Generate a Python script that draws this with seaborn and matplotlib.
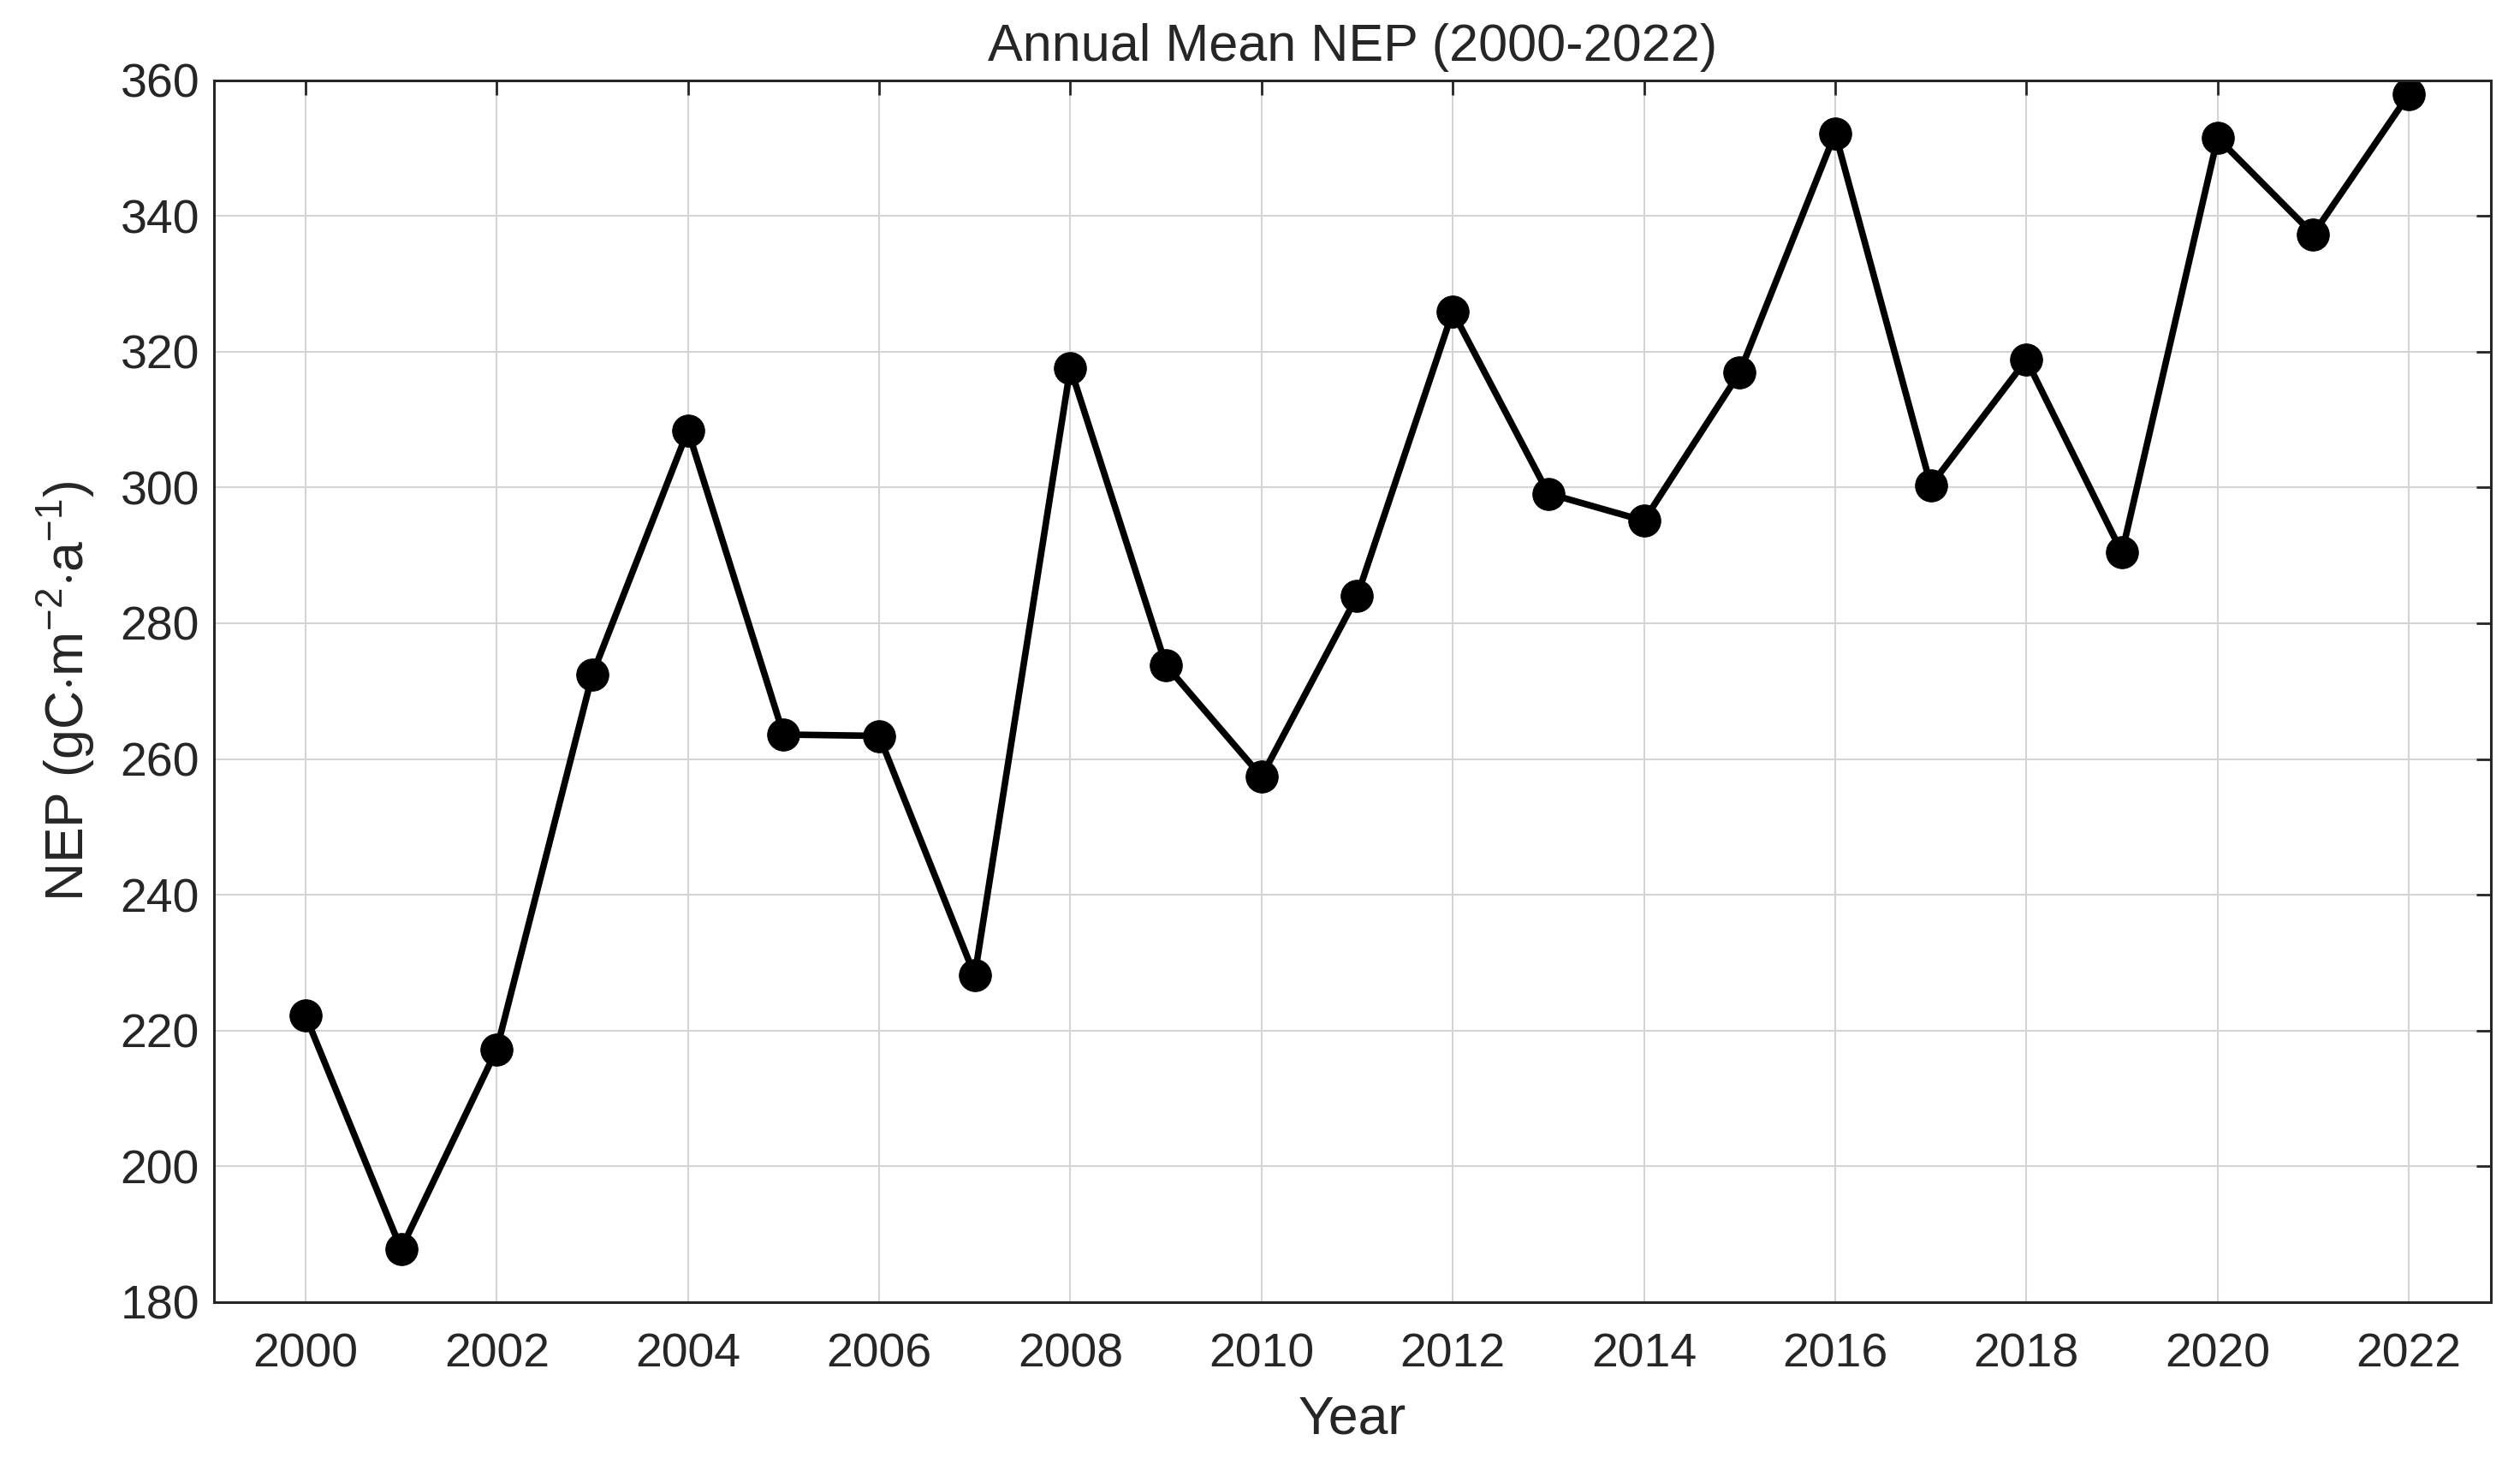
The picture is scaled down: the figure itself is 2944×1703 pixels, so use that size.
import pandas as pd
import matplotlib.pyplot as plt
import seaborn as sns
import numpy as np

# Dados
years = list(range(2000, 2023))
nep = [222.2, 187.8, 217.2, 272.4, 308.4, 263.6, 263.4, 228.1, 317.6, 273.8,
       257.4, 284.0, 325.9, 299.1, 295.1, 316.9, 352.2, 300.3, 318.8, 290.4,
       351.5, 337.3, 357.9]
xticks = list(range(2000, 2023, 2))
yticks = list(range(180, 361, 20))

df = pd.DataFrame({"Year": years, "NEP": nep})

sns.set_theme(style="whitegrid")
plt.rcParams["font.family"] = ["Liberation Sans", "DejaVu Sans"]
plt.rcParams["mathtext.fontset"] = "custom"
plt.rcParams["mathtext.rm"] = "Liberation Sans"
plt.rcParams["mathtext.it"] = "Liberation Sans"

fig = plt.figure(figsize=(29.44, 17.03), dpi=100)
ax = fig.add_axes([0.0848, 0.107, 0.9037, 0.838])

sns.lineplot(data=df, x="Year", y="NEP", ax=ax, color="black", linewidth=5.5,
             marker="o", markersize=27, markeredgecolor="black", markerfacecolor="black")

ax.set_xlim(1999.04, 2022.86)
ax.set_ylim(180, 360)
ax.set_xticks(xticks)
ax.set_yticks(yticks)
ax.grid(True, color="#d4d4d4", linewidth=1.5)
for s in ax.spines.values():
    s.set_color("#262626")
    s.set_linewidth(2.2)
ax.tick_params(direction="in", length=12, width=2, color="#262626",
               labelsize=40, labelcolor="#262626", top=True, right=True)
ax.tick_params(axis="x", pad=26)
ax.tick_params(axis="y", pad=12)

ax.set_title("Annual Mean NEP (2000-2022)", fontsize=44, pad=16)
ax.set_xlabel("Year", fontsize=45, color="#262626", labelpad=14)
ax.set_ylabel(r"NEP (gC$\cdot$m$^{-2}$$\cdot$a$^{-1}$)", fontsize=45, color="#262626", labelpad=20)

fig.savefig("out.png", dpi=100, facecolor="white")
plt.close()
